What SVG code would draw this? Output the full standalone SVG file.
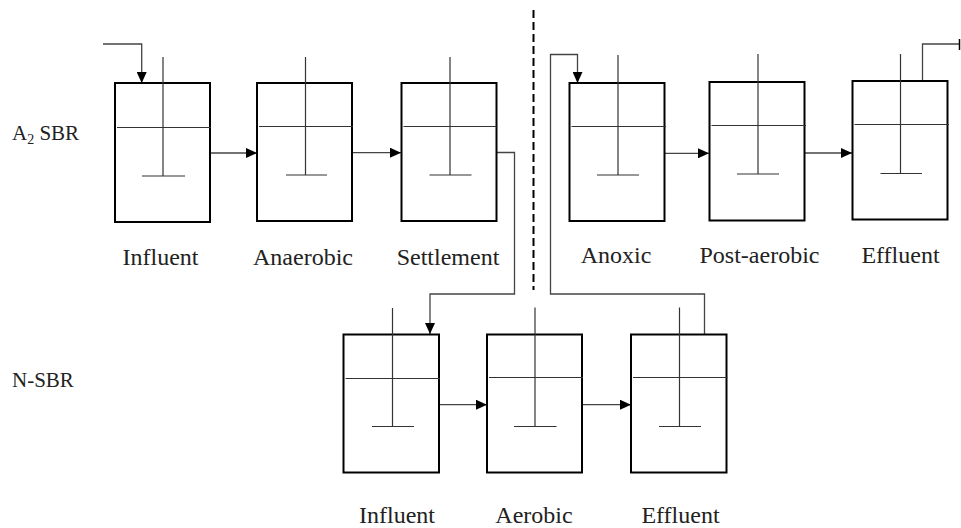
<svg xmlns="http://www.w3.org/2000/svg" width="961" height="528" viewBox="0 0 961 528">
<style>
.tank{fill:#fff;stroke:#000;stroke-width:2}
.in{stroke:#333;stroke-width:1.2;fill:none}
.con{stroke:#444;stroke-width:1.3;fill:none}
.arr{marker-end:url(#ah)}
.lbl{font-size:24px;fill:#222;text-anchor:middle}
.row{font-size:21px;fill:#222}
</style>
<defs>
<marker id="ah" markerUnits="userSpaceOnUse" markerWidth="11" markerHeight="10" refX="11" refY="5" orient="auto">
<path d="M0,0 L11,5 L0,10 Z" fill="#000"/>
</marker>
</defs>
<rect width="961" height="528" fill="#fff"/>
<g font-family="'Liberation Serif', 'DejaVu Serif', serif">
<text class="row" x="12" y="139.5">A<tspan font-size="14" dy="4">2</tspan><tspan dy="-4"> SBR</tspan></text>
<text class="row" x="12" y="387">N-SBR</text>

<line x1="533.5" y1="10" x2="533.5" y2="290" stroke="#000" stroke-width="2" stroke-dasharray="8,4"/>

<g id="connectors">
<path class="con arr" d="M103,44 H141.7 V83"/>
<path class="con arr" d="M210,153 H257"/>
<path class="con arr" d="M352,152.7 H401"/>
<path class="con arr" d="M496.5,152.5 H514.5 V294 H430 V334"/>
<path class="con arr" d="M704.5,334 V294 H550.5 V54.5 H577.5 V83"/>
<path class="con arr" d="M664,153.3 H709"/>
<path class="con arr" d="M804,153 H852"/>
<path class="con" d="M922.5,81 V44 H960"/>
<line x1="959.5" y1="39" x2="959.5" y2="50" stroke="#000" stroke-width="1.5"/>
<path class="con arr" d="M439,404.7 H487"/>
<path class="con arr" d="M582,404.7 H631"/>
</g>

<g id="a2-influent">
<rect class="tank" x="115" y="83" width="95" height="139"/>
<line class="in" x1="117" y1="127.5" x2="211" y2="127.5"/>
<line class="in" x1="163" y1="57" x2="163" y2="176"/>
<line class="in" x1="142" y1="176" x2="185" y2="176"/>
<text class="lbl" x="160.5" y="265">Influent</text>
</g>
<g id="a2-anaerobic">
<rect class="tank" x="257" y="83" width="95" height="138"/>
<line class="in" x1="259" y1="126.5" x2="353" y2="126.5"/>
<line class="in" x1="305.5" y1="57" x2="305.5" y2="175"/>
<line class="in" x1="286" y1="175" x2="327" y2="175"/>
<text class="lbl" x="303" y="265">Anaerobic</text>
</g>
<g id="a2-settlement">
<rect class="tank" x="401.5" y="83" width="95" height="138"/>
<line class="in" x1="403.5" y1="126.5" x2="497.5" y2="126.5"/>
<line class="in" x1="450" y1="57" x2="450" y2="175"/>
<line class="in" x1="429.5" y1="175" x2="471.5" y2="175"/>
<text class="lbl" x="448" y="264.5">Settlement</text>
</g>
<g id="a2-anoxic">
<rect class="tank" x="569.5" y="83" width="95" height="138"/>
<line class="in" x1="571.5" y1="126.5" x2="666" y2="126.5"/>
<line class="in" x1="618" y1="55" x2="618" y2="175"/>
<line class="in" x1="597" y1="175" x2="639" y2="175"/>
<text class="lbl" x="616" y="262.5">Anoxic</text>
</g>
<g id="a2-postaerobic">
<rect class="tank" x="709.5" y="82" width="95" height="138.5"/>
<line class="in" x1="711.5" y1="125.5" x2="806" y2="125.5"/>
<line class="in" x1="758" y1="54" x2="758" y2="174"/>
<line class="in" x1="737" y1="174" x2="779" y2="174"/>
<text class="lbl" x="759.5" y="262.5">Post-aerobic</text>
</g>
<g id="a2-effluent">
<rect class="tank" x="852.5" y="81" width="95" height="138.5"/>
<line class="in" x1="854.5" y1="124.5" x2="949" y2="124.5"/>
<line class="in" x1="900.5" y1="54" x2="900.5" y2="173.5"/>
<line class="in" x1="880.5" y1="173.5" x2="922" y2="173.5"/>
<text class="lbl" x="900.5" y="262.5">Effluent</text>
</g>

<g id="n-influent">
<rect class="tank" x="343.5" y="334.5" width="95.5" height="138"/>
<line class="in" x1="345.5" y1="378.5" x2="440" y2="378.5"/>
<line class="in" x1="392.5" y1="308" x2="392.5" y2="426.5"/>
<line class="in" x1="372" y1="426.5" x2="414" y2="426.5"/>
<text class="lbl" x="397" y="522.5">Influent</text>
</g>
<g id="n-aerobic">
<rect class="tank" x="487" y="334.5" width="95" height="138"/>
<line class="in" x1="489" y1="377.5" x2="583" y2="377.5"/>
<line class="in" x1="535" y1="307.5" x2="535" y2="426.5"/>
<line class="in" x1="514" y1="426.5" x2="556.5" y2="426.5"/>
<text class="lbl" x="534" y="522.5">Aerobic</text>
</g>
<g id="n-effluent">
<rect class="tank" x="631" y="334.5" width="95.5" height="138"/>
<line class="in" x1="633" y1="377.5" x2="727.5" y2="377.5"/>
<line class="in" x1="679.5" y1="307.5" x2="679.5" y2="426.5"/>
<line class="in" x1="659" y1="426.5" x2="701" y2="426.5"/>
<text class="lbl" x="680.5" y="522.5">Effluent</text>
</g>
</g>
</svg>
